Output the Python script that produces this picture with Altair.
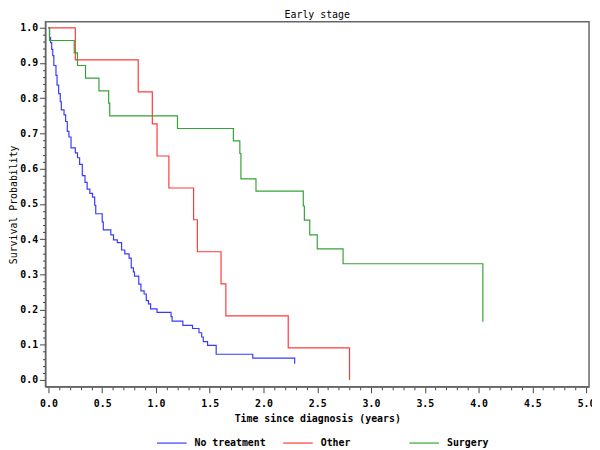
import altair as alt
import pandas as pd

groups = ["No treatment", "Other", "Surgery"]
colors = ["#3a3aff", "#ff3a3a", "#36a336"]

# Kaplan-Meier steps: (time after the drop, survival after the drop)
t_none = [0, 0.01, 0.02, 0.03, 0.04, 0.05, 0.07, 0.08, 0.095, 0.11, 0.12, 0.145, 0.16, 0.175,
          0.19, 0.21, 0.25, 0.27, 0.29, 0.315, 0.34, 0.36, 0.385, 0.41, 0.43, 0.44, 0.50, 0.51,
          0.58, 0.605, 0.64, 0.68, 0.71, 0.75, 0.77, 0.79, 0.80, 0.84, 0.86, 0.89, 0.91, 0.93,
          0.95, 1.01, 1.14, 1.15, 1.25, 1.34, 1.40, 1.425, 1.44, 1.48, 1.56, 1.90, 2.29]
s_none = [1.0, 0.972, 0.958, 0.939, 0.921, 0.893, 0.865, 0.837, 0.813, 0.790, 0.767, 0.753, 0.734,
          0.706, 0.690, 0.659, 0.645, 0.631, 0.612, 0.580, 0.561, 0.542, 0.530, 0.519, 0.496, 0.472,
          0.449, 0.426, 0.412, 0.398, 0.390, 0.369, 0.358, 0.346, 0.318, 0.307, 0.295, 0.272, 0.253,
          0.244, 0.225, 0.216, 0.202, 0.192, 0.180, 0.167, 0.155, 0.146, 0.134, 0.122, 0.109, 0.098,
          0.073, 0.062, 0.046]

t_other = [0, 0.25, 0.835, 0.966, 1.01, 1.12, 1.35, 1.385, 1.605, 1.65, 2.23, 2.80]
s_other = [1.0, 0.909, 0.818, 0.727, 0.636, 0.545, 0.455, 0.364, 0.273, 0.182, 0.091, 0.0]

t_surg = [0, 0.01, 0.24, 0.27, 0.345, 0.47, 0.56, 0.57, 1.20, 1.72, 1.78, 1.79, 1.93, 2.37,
          2.38, 2.43, 2.50, 2.74, 4.04]
s_surg = [1.0, 0.964, 0.929, 0.893, 0.857, 0.821, 0.786, 0.750, 0.714, 0.679, 0.643, 0.571,
          0.536, 0.494, 0.454, 0.412, 0.372, 0.330, 0.165]

x_ticks = [round(i * 0.1, 1) for i in range(0, 51)]
y_ticks = [round(i * 0.02, 2) for i in range(0, 51)]

rows = []
for g, ts, ss in [(groups[0], t_none, s_none), (groups[1], t_other, s_other), (groups[2], t_surg, s_surg)]:
    for t, s in zip(ts, ss):
        rows.append({"group": g, "time": t, "surv": s})
df = pd.DataFrame(rows)

FONT = "DejaVu Sans Mono"

x_major = "abs(datum.value*2 - round(datum.value*2)) < 0.001"
y_major = "abs(datum.value*10 - round(datum.value*10)) < 0.001"

chart = alt.Chart(df).mark_line(interpolate="step-after", strokeWidth=1.2).encode(
    x=alt.X("time:Q",
            scale=alt.Scale(domain=[-0.0275, 5.0275], nice=False, zero=False),
            axis=alt.Axis(values=x_ticks, title="Time since diagnosis (years)",
                          labelExpr=f"{x_major} ? format(datum.value, '.1f') : ''",
                          tickSize={"condition": {"test": x_major, "value": 6}, "value": 3},
                          labelFont=FONT, labelFontSize=10, labelFontWeight="bold",
                          labelPadding=6, titleFont=FONT, titleFontSize=10, titleFontWeight="bold",
                          titlePadding=5, grid=False, domainColor="#666666", tickColor="#444444",
                          labelColor="black", titleColor="black", labelOverlap=False)),
    y=alt.Y("surv:Q",
            scale=alt.Scale(domain=[-0.0196, 1.017], nice=False, zero=False),
            axis=alt.Axis(values=y_ticks, title="Survival Probability",
                          labelExpr=f"{y_major} ? format(datum.value, '.1f') : ''",
                          tickSize={"condition": {"test": y_major, "value": 6}, "value": 3},
                          labelFont=FONT, labelFontSize=10, labelFontWeight="bold",
                          labelPadding=2, titleFont=FONT, titleFontSize=10, titleFontWeight="normal",
                          titlePadding=1, grid=False, domainColor="#666666", tickColor="#444444",
                          labelColor="black", titleColor="black", labelOverlap=False)),
    color=alt.Color("group:N", scale=alt.Scale(domain=groups, range=colors),
                    legend=alt.Legend(title=None, orient="none", legendX=112, legendY=411,
                                      direction="horizontal", columns=3, symbolType="stroke",
                                      symbolSize=900, symbolStrokeWidth=1.2, labelFont=FONT,
                                      labelFontSize=10, labelFontWeight="bold", labelColor="black",
                                      gridAlign="all", columnPadding=14, labelOffset=7)),
).properties(
    width=551, height=370,
    title=alt.TitleParams("Early stage", font=FONT, fontSize=10, fontWeight="normal",
                          color="black", offset=2),
    autosize=alt.AutoSizeParams(type="none"),
    padding={"left": 38, "top": 11, "right": 3, "bottom": 60},
).configure_view(stroke="#666666", strokeWidth=1.5)

chart.save("out.html", embed_options={"renderer": "svg", "actions": False})
